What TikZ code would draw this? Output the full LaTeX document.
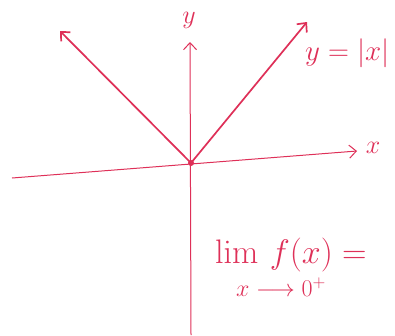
\documentclass[tikz,border=0pt]{standalone}
\usepackage{fix-cm}
\usepackage{amsmath,amssymb}
\usepackage{xcolor}
\usepackage{tikz}
\usetikzlibrary{arrows.meta,positioning}

\definecolor{ink}{RGB}{222,48,88}

\begin{document}
\begin{tikzpicture}[
  x=1pt,
  y=-1pt,
  >={Straight Barb[length=7pt,width=13pt]},
  every node/.style={text=ink,inner sep=1pt,font=\fontsize{26}{30}\selectfont},
  axis/.style={->,draw=ink,line width=1pt},
  branch/.style={->,draw=ink,line width=1.7pt,line cap=round},
  bigtext/.style={font=\fontsize{34}{38}\selectfont},
  smalltext/.style={font=\fontsize{24}{28}\selectfont}
]
\useasboundingbox (0,0) rectangle (395,335);

% Coordinate axes.
\coordinate (O) at (191,163);
\coordinate (xstart) at (12,178);
\coordinate (xend) at (357,151);
\coordinate (ystart) at (191,335);
\coordinate (yend) at (190,42);
\draw[axis] (xstart) -- (xend);
\draw[axis] (ystart) -- (yend);
\node (xlabel) at (373,148) {$x$};
\node (ylabel) at (189,20) {$y$};

% The two branches of the graph.
\coordinate (lefttip) at (60,31);
\coordinate (righttip) at (307,22);
\draw[branch] (O) -- (lefttip);
\draw[branch] (O) -- (righttip);
\fill[ink] (O) circle (3pt);
\node[font=\fontsize{29}{33}\selectfont,anchor=west] (graphlabel) at (304,53) {$y=|x|$};

% One-sided limit at the corner.
\node[bigtext,anchor=base west] (limit) at (214,263) {$\lim\, f(x) =$};
\node[smalltext,anchor=base west] (approach) at (235,296) {$x\longrightarrow0^{+}$};

\end{tikzpicture}
\end{document}
